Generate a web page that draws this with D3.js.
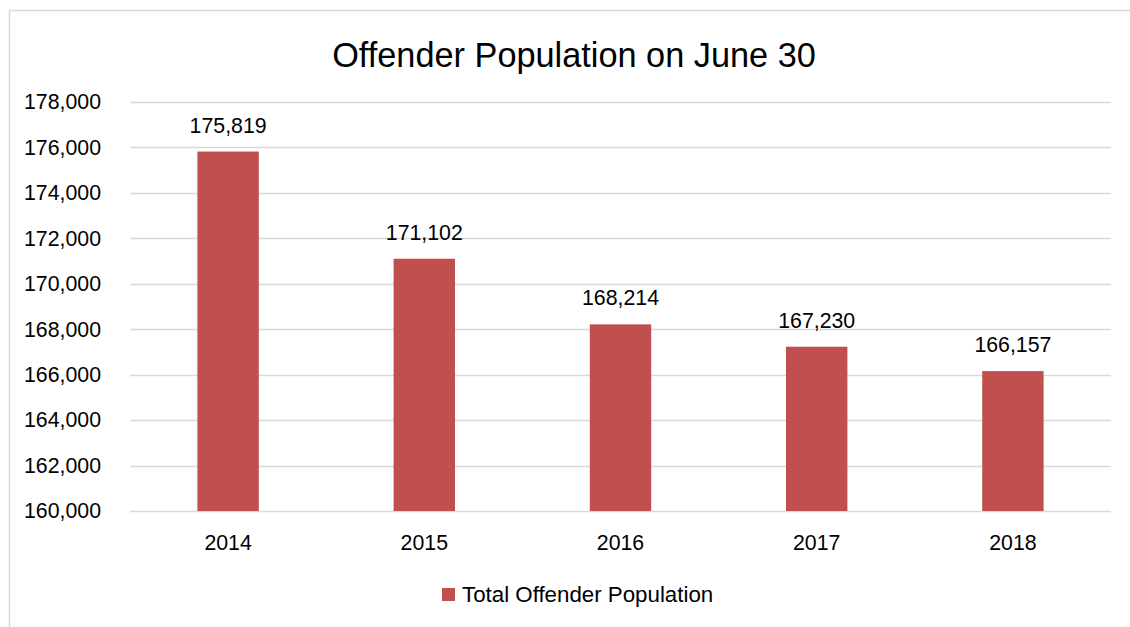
<!DOCTYPE html>
<html><head><meta charset="utf-8">
<script src="https://cdn.jsdelivr.net/npm/d3@7"></script>
<style>html,body{margin:0;padding:0;background:#fff;}svg{display:block;font-family:"Liberation Sans",Arial,sans-serif;}</style>
</head><body><svg id="c" width="1130" height="627"></svg>
<script>
const categories = ["2014","2015","2016","2017","2018"];
const values = [175819,171102,168214,167230,166157];
const yTicks = [160000,162000,164000,166000,168000,170000,172000,174000,176000,178000];
const title = "Offender Population on June 30";
const seriesName = "Total Offender Population";
const color = "#c0504d";

const svg = d3.select("#c");
svg.append("rect").attr("x",9.5).attr("y",10.5).attr("width",1130).attr("height",700)
  .attr("fill","#fff").attr("stroke","#d9d9d9").attr("stroke-width",1.5);

const L=130,R=1111,T=102,B=511;
const x = d3.scaleBand().domain(categories).range([L,R]).paddingInner(0.687).paddingOuter(0.3435);
const y = d3.scaleLinear().domain([160000,178000]).range([B,T]);
const fmt = d3.format(",");

svg.append("text").attr("x",574).attr("y",67).attr("text-anchor","middle")
  .attr("font-size",34.3).attr("fill","#000").text(title);

const g = svg.append("g");
g.selectAll("line.grid").data(yTicks).enter().append("line")
  .attr("x1",L).attr("x2",R).attr("y1",d=>Math.round(y(d))+0.5).attr("y2",d=>Math.round(y(d))+0.5)
  .attr("stroke","#d9d9d9").attr("stroke-width",1.5);

const yAxis = d3.axisLeft(y).tickValues(yTicks).tickFormat(fmt).tickSize(0).tickPadding(29);
const ya = svg.append("g").attr("transform",`translate(${L},0)`).call(yAxis);
ya.select(".domain").remove();
ya.selectAll("text").attr("font-size",21.3).attr("fill","#000").attr("font-family","Liberation Sans, Arial, sans-serif");

const xAxis = d3.axisBottom(x).tickSize(0).tickPadding(24);
const xa = svg.append("g").attr("transform",`translate(0,${B})`).call(xAxis);
xa.select(".domain").remove();
xa.selectAll("text").attr("font-size",21.3).attr("fill","#000").attr("font-family","Liberation Sans, Arial, sans-serif");

g.selectAll("rect.bar").data(values).enter().append("rect")
  .attr("x",(d,i)=>x(categories[i])).attr("width",x.bandwidth())
  .attr("y",d=>y(d)).attr("height",d=>B-y(d)).attr("fill",color);

g.selectAll("text.val").data(values).enter().append("text")
  .attr("x",(d,i)=>x(categories[i])+x.bandwidth()/2).attr("y",d=>y(d)-19)
  .attr("text-anchor","middle").attr("font-size",21.3).attr("fill","#000").text(d=>fmt(d));

svg.append("rect").attr("x",442).attr("y",588).attr("width",13).attr("height",13).attr("fill",color);
svg.append("text").attr("x",462).attr("y",602).attr("font-size",22.3).attr("fill","#000").text(seriesName);
</script></body></html>
